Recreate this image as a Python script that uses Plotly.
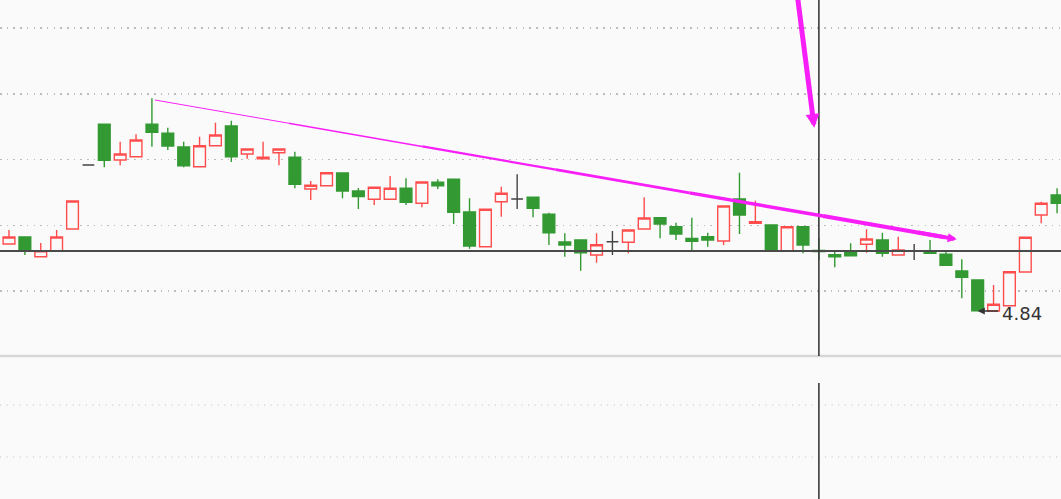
import plotly.graph_objects as go

# ---------------- data ----------------
IDX = list(range(67))
OPEN = [5.108, 5.136, 5.057, 5.080, 5.168, 5.424, 5.587, 5.444, 5.457, 5.587,
        5.551, 5.496, 5.417, 5.501, 5.580, 5.468, 5.449, 5.473, 5.455, 5.328,
        5.341, 5.392, 5.320, 5.287, 5.287, 5.331, 5.271, 5.355, 5.367, 5.236,
        5.097, 5.277, 5.288, 5.295, 5.227, 5.116, 5.124, 5.064, 5.117, 5.115,
        5.168, 5.213, 5.177, 5.130, 5.137, 5.120, 5.288, 5.191, 5.184, 5.081,
        5.177, 5.082, 5.065, 5.073, 5.107, 5.124, 5.064, 5.080, 5.077, 5.067,
        5.000, 4.964, 4.840, 4.861, 4.996, 5.224, 5.304]
HIGH = [5.164, 5.136, 5.112, 5.164, 5.280, 5.424, 5.587, 5.517, 5.547, 5.691,
        5.573, 5.517, 5.537, 5.593, 5.601, 5.488, 5.517, 5.488, 5.477, 5.360,
        5.393, 5.392, 5.332, 5.335, 5.380, 5.371, 5.356, 5.367, 5.367, 5.291,
        5.247, 5.337, 5.387, 5.295, 5.233, 5.151, 5.124, 5.151, 5.160, 5.164,
        5.295, 5.213, 5.193, 5.213, 5.153, 5.260, 5.393, 5.281, 5.184, 5.177,
        5.177, 5.132, 5.081, 5.111, 5.167, 5.153, 5.137, 5.108, 5.124, 5.084,
        5.047, 4.964, 4.944, 4.997, 5.135, 5.277, 5.331]
LOW = [5.108, 5.064, 5.057, 5.080, 5.168, 5.424, 5.415, 5.423, 5.457, 5.497,
       5.484, 5.415, 5.417, 5.501, 5.436, 5.449, 5.449, 5.423, 5.331, 5.284,
       5.341, 5.291, 5.248, 5.264, 5.287, 5.264, 5.255, 5.328, 5.188, 5.089,
       5.097, 5.217, 5.248, 5.215, 5.104, 5.057, 5.001, 5.033, 5.064, 5.071,
       5.168, 5.131, 5.124, 5.082, 5.097, 5.104, 5.148, 5.191, 5.081, 5.081,
       5.071, 5.044, 5.015, 5.061, 5.073, 5.057, 5.064, 5.044, 5.071, 5.023,
       4.891, 4.840, 4.840, 4.861, 4.996, 5.191, 5.231]
CLOSE = [5.136, 5.080, 5.081, 5.136, 5.280, 5.424, 5.443, 5.468, 5.524, 5.555,
         5.500, 5.421, 5.501, 5.544, 5.457, 5.488, 5.455, 5.488, 5.347, 5.343,
         5.393, 5.320, 5.298, 5.335, 5.331, 5.275, 5.356, 5.341, 5.235, 5.100,
         5.247, 5.311, 5.288, 5.251, 5.153, 5.104, 5.073, 5.105, 5.117, 5.164,
         5.212, 5.188, 5.148, 5.119, 5.124, 5.260, 5.224, 5.197, 5.081, 5.177,
         5.104, 5.078, 5.057, 5.061, 5.128, 5.071, 5.084, 5.080, 5.071, 5.023,
         4.975, 4.841, 4.867, 4.997, 5.135, 5.271, 5.271]

GRID_PRICES = [4.920, 5.183, 5.446, 5.709, 5.972]
Y_RANGE = [4.660, 6.084]
X_RANGE = [-0.567, 66.247]
CROSS_INDEX = 51
CROSS_PRICE = 5.080
LOW_INDEX = 61
LOW_LABEL = "4.84"
TREND_START = (9.19, 5.684)
TREND_END = (59.68, 5.127)
ARROW2_TAIL = (49.60, 6.124)
ARROW2_TIP = (50.71, 5.573)

# ---------------- styles ----------------
BG = "#fafafa"
RED = "#ff4d4d"
GREEN = "#339933"
DOJI = "#444444"
MAGENTA = "#f81ef8"
GRID = "#bdbdbd"
MAIN_BOTTOM = (499 - 356) / 499      # paper fraction of the panel separator
LOWER_TOP = (499 - 383) / 499


def subset(cond):
    sel = [i for i in IDX if cond(OPEN[i], CLOSE[i])]
    return ([IDX[i] for i in sel], [OPEN[i] for i in sel], [HIGH[i] for i in sel],
            [LOW[i] for i in sel], [CLOSE[i] for i in sel])


def candle(cond, line_color, fill_color):
    x, o, h, l, c = subset(cond)
    style = dict(line=dict(color=line_color, width=1.4), fillcolor=fill_color)
    return go.Candlestick(x=x, open=o, high=h, low=l, close=c,
                          increasing=style, decreasing=style,
                          whiskerwidth=0, hoverinfo="skip", showlegend=False)


fig = go.Figure()
fig.add_trace(candle(lambda o, c: c > o, RED, BG))
fig.add_trace(candle(lambda o, c: c < o, GREEN, GREEN))
fig.add_trace(candle(lambda o, c: c == o, DOJI, DOJI))

shapes = []
# lower panel dotted grid
for yp in [(499 - 405) / 499, (499 - 457) / 499]:
    shapes.append(dict(type="line", xref="paper", yref="paper", x0=0, x1=1, y0=yp, y1=yp,
                       line=dict(color=GRID, width=1, dash="1px,5.6px"), layer="below"))
# separator between panels
shapes.append(dict(type="line", xref="paper", yref="paper", x0=0, x1=1,
                   y0=MAIN_BOTTOM, y1=MAIN_BOTTOM, line=dict(color="#d6d6d6", width=2.6)))
# crosshair
shapes.append(dict(type="line", xref="paper", yref="y", x0=0, x1=1,
                   y0=CROSS_PRICE, y1=CROSS_PRICE, line=dict(color="#4a4a4a", width=1.8)))
shapes.append(dict(type="line", xref="x", yref="paper", x0=CROSS_INDEX, x1=CROSS_INDEX,
                   y0=MAIN_BOTTOM, y1=1, line=dict(color="#3a3a3a", width=1.6)))
shapes.append(dict(type="line", xref="x", yref="paper", x0=CROSS_INDEX, x1=CROSS_INDEX,
                   y0=0, y1=LOWER_TOP, line=dict(color="#3a3a3a", width=1.6)))
# tapered trend line (drawn in pieces of growing width)
n_seg = 6
(xs, ys), (xe, ye) = TREND_START, TREND_END
for k in range(n_seg):
    t0, t1 = k / n_seg, (k + 1) / n_seg
    if k == n_seg - 1:
        t1 = 0.985
    shapes.append(dict(type="line", xref="x", yref="y",
                       x0=xs + (xe - xs) * t0, y0=ys + (ye - ys) * t0,
                       x1=xs + (xe - xs) * t1, y1=ys + (ye - ys) * t1,
                       line=dict(color=MAGENTA, width=1.0 + 0.6 * k)))

annotations = [
    # head of trend arrow
    dict(x=xe, y=ye, ax=xs + (xe - xs) * 0.95, ay=ys + (ye - ys) * 0.95,
         xref="x", yref="y", axref="x", ayref="y", text="", showarrow=True,
         arrowhead=2, arrowsize=0.45, arrowwidth=4, arrowcolor=MAGENTA),
    # steep arrow from the top
    dict(x=ARROW2_TIP[0], y=ARROW2_TIP[1], ax=ARROW2_TAIL[0], ay=ARROW2_TAIL[1],
         xref="x", yref="y", axref="x", ayref="y", text="", showarrow=True,
         arrowhead=2, arrowsize=0.55, arrowwidth=5, arrowcolor=MAGENTA),
    # low price marker
    dict(x=IDX[LOW_INDEX], y=min(LOW), ax=22, ay=0, xref="x", yref="y", text="",
         showarrow=True, arrowhead=2, arrowsize=1.1, arrowwidth=1.3, arrowcolor="#333333"),
    dict(x=IDX[LOW_INDEX], y=min(LOW), xref="x", yref="y", text=LOW_LABEL, showarrow=False,
         xanchor="left", yanchor="middle", xshift=22, yshift=-2,
         font=dict(family="DejaVu Sans", size=18, color="#333333")),
]

fig.update_layout(
    width=1061, height=499,
    margin=dict(l=0, r=0, t=0, b=0),
    paper_bgcolor=BG, plot_bgcolor=BG,
    boxgap=0.26, boxgroupgap=0,
    showlegend=False,
    shapes=shapes,
    annotations=annotations,
    xaxis=dict(range=X_RANGE, showgrid=False, zeroline=False, showticklabels=False,
               showline=False, ticks="", rangeslider=dict(visible=False), fixedrange=True),
    yaxis=dict(range=Y_RANGE, domain=[MAIN_BOTTOM, 1], tickvals=GRID_PRICES,
               showgrid=True, gridcolor=GRID, gridwidth=1.5, griddash="1.5px,5.2px",
               zeroline=False, showticklabels=False, showline=False, ticks="", fixedrange=True),
)

fig.write_html("out.html", config=dict(displayModeBar=False, staticPlot=True),
               post_script="document.body.style.margin='0';"
                           "document.body.style.background='" + BG + "';")
